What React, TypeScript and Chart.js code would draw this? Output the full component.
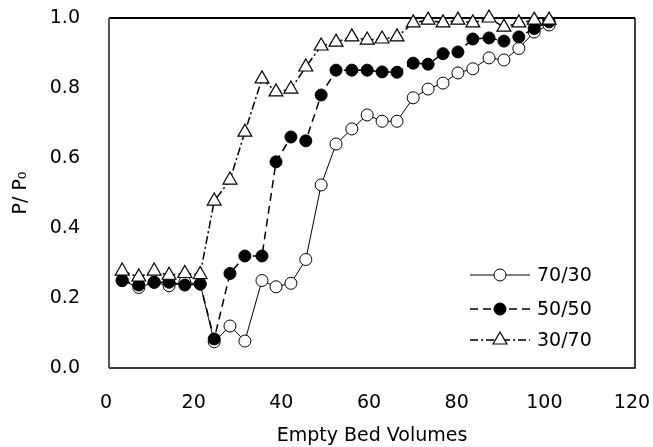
import { useEffect, useRef } from "react";
import { Chart, registerables } from "chart.js";

Chart.register(...registerables);

// Empty bed volumes (x) shared by the three series
const bedVolumes = [3.0, 6.8, 10.3, 13.7, 17.3, 20.8, 24.0, 27.6, 31.0, 34.9, 38.1, 41.5, 44.9, 48.4, 51.8, 55.4, 58.9, 62.3, 65.7, 69.4, 72.8, 76.2, 79.6, 83.0, 86.7, 90.1, 93.5, 97.0, 100.4];

// P/P0 values
const ratio7030 = [0.25, 0.23, 0.245, 0.235, 0.245, 0.24, 0.075, 0.12, 0.077, 0.25, 0.232, 0.242, 0.31, 0.523, 0.64, 0.683, 0.723, 0.705, 0.705, 0.772, 0.797, 0.814, 0.843, 0.855, 0.886, 0.88, 0.913, 0.96, 0.98];
const ratio5050 = [0.25, 0.237, 0.245, 0.245, 0.237, 0.24, 0.083, 0.27, 0.32, 0.32, 0.589, 0.66, 0.649, 0.78, 0.851, 0.851, 0.851, 0.846, 0.845, 0.871, 0.868, 0.898, 0.903, 0.94, 0.943, 0.934, 0.946, 0.97, 0.989];
const ratio3070 = [0.277, 0.26, 0.277, 0.265, 0.27, 0.267, 0.477, 0.537, 0.674, 0.826, 0.789, 0.797, 0.86, 0.92, 0.931, 0.946, 0.937, 0.94, 0.946, 0.986, 0.994, 0.986, 0.994, 0.986, 1.0, 0.974, 0.986, 0.994, 0.994];

const seriesLabels = ["70/30", "50/50", "30/70"];
const xTickValues = [0, 20, 40, 60, 80, 100, 120];
const yTickValues = [0.0, 0.2, 0.4, 0.6, 0.8, 1.0];
const xTitle = "Empty Bed Volumes";
const yTitle = "P/ P\u2080";

const FONT = "'DejaVu Sans', 'Liberation Sans', sans-serif";

type Look = {
  width: number;
  dash: number[];
  fill: string;
  pointStyle: "circle" | "triangle";
  radius: number;
  pointBorder: number;
};

const looks: Look[] = [
  { width: 1, dash: [], fill: "#ffffff", pointStyle: "circle", radius: 6, pointBorder: 1 },
  { width: 1.5, dash: [8, 5], fill: "#000000", pointStyle: "circle", radius: 6, pointBorder: 1 },
  { width: 1.5, dash: [8, 3, 2, 3], fill: "#ffffff", pointStyle: "triangle", radius: 8, pointBorder: 1.2 },
];

function drawMarker(ctx: CanvasRenderingContext2D, look: Look, x: number, y: number) {
  ctx.save();
  ctx.setLineDash([]);
  ctx.beginPath();
  if (look.pointStyle === "circle") {
    ctx.arc(x, y, look.radius, 0, Math.PI * 2);
  } else {
    const r = look.radius;
    let a = 0;
    ctx.moveTo(x + Math.sin(a) * r, y - Math.cos(a) * r);
    a += (2 * Math.PI) / 3;
    ctx.lineTo(x + Math.sin(a) * r, y - Math.cos(a) * r);
    a += (2 * Math.PI) / 3;
    ctx.lineTo(x + Math.sin(a) * r, y - Math.cos(a) * r);
    ctx.closePath();
  }
  ctx.fillStyle = look.fill;
  ctx.fill();
  ctx.lineWidth = look.pointBorder;
  ctx.strokeStyle = "#000";
  ctx.stroke();
  ctx.restore();
}

const framePlugin = {
  id: "frame",
  beforeDatasetsDraw(chart: any) {
    const { ctx, chartArea: a } = chart;
    ctx.save();
    ctx.strokeStyle = "#000";
    ctx.lineWidth = 1.5;
    ctx.beginPath();
    ctx.moveTo(a.left, a.bottom);
    ctx.lineTo(a.right, a.bottom);
    ctx.lineTo(a.right, a.top);
    ctx.stroke();
    ctx.lineWidth = 2;
    ctx.beginPath();
    ctx.moveTo(a.left, a.top);
    ctx.lineTo(a.right, a.top);
    ctx.stroke();
    ctx.strokeStyle = "#555";
    ctx.beginPath();
    ctx.moveTo(a.left, a.top);
    ctx.lineTo(a.left, a.bottom);
    ctx.stroke();
    ctx.restore();
  },
};

const legendPlugin = {
  id: "customLegend",
  afterDraw(chart: any) {
    const { ctx, chartArea: a } = chart;
    const x0 = a.right - 165;
    const x1 = a.right - 105;
    const rows = [a.bottom - 93, a.bottom - 59, a.bottom - 28];
    ctx.save();
    seriesLabels.forEach((label, i) => {
      const look = looks[i];
      const y = rows[i];
      ctx.strokeStyle = "#000";
      ctx.lineWidth = look.width;
      ctx.setLineDash(look.dash);
      ctx.beginPath();
      ctx.moveTo(x0, y);
      ctx.lineTo(x1, y);
      ctx.stroke();
      drawMarker(ctx, look, (x0 + x1) / 2, y);
      ctx.setLineDash([]);
      ctx.fillStyle = "#000";
      ctx.font = `19px ${FONT}`;
      ctx.textBaseline = "middle";
      ctx.textAlign = "left";
      ctx.fillText(label, x1 + 7, y + 1);
    });
    ctx.restore();
  },
};

export default function App() {
  const ref = useRef<HTMLCanvasElement>(null);

  useEffect(() => {
    document.body.style.margin = "0";
    const canvas = ref.current!;
    const seriesValues = [ratio7030, ratio5050, ratio3070];
    const datasets = seriesValues.map((vals, i) => ({
      label: seriesLabels[i],
      data: bedVolumes.map((x, j) => ({ x, y: vals[j] })),
      borderColor: "#000",
      borderWidth: looks[i].width,
      borderDash: looks[i].dash,
      pointStyle: looks[i].pointStyle,
      pointRadius: looks[i].radius,
      pointBackgroundColor: looks[i].fill,
      pointBorderColor: "#000",
      pointBorderWidth: looks[i].pointBorder,
      fill: false,
      tension: 0,
      clip: false,
      order: 3 - i,
    }));

    const chart = new Chart(canvas, {
      type: "line",
      data: { datasets },
      options: {
        animation: false,
        responsive: false,
        devicePixelRatio: 1,
        layout: { padding: { top: 18, right: 18, left: 0, bottom: 0 } },
        plugins: { legend: { display: false }, tooltip: { enabled: false } },
        scales: {
          x: {
            type: "linear",
            min: 0,
            max: 120,
            afterBuildTicks: (s: any) => {
              s.ticks = xTickValues.map((v) => ({ value: v }));
            },
            afterFit: (s: any) => {
              s.height = 79;
              s.paddingLeft = 0;
              s.paddingRight = 0;
            },
            grid: { display: false, drawTicks: false },
            border: { display: false },
            ticks: {
              color: "#000",
              font: { family: FONT, size: 19 },
              padding: 24,
              labelOffset: -3,
              maxRotation: 0,
              callback: (v: any) => String(v),
            },
            title: {
              display: true,
              text: xTitle,
              color: "#000",
              font: { family: FONT, size: 19 },
              padding: { top: 0, bottom: 0 },
            },
          },
          y: {
            type: "linear",
            min: 0,
            max: 1,
            afterBuildTicks: (s: any) => {
              s.ticks = yTickValues.map((v) => ({ value: v }));
            },
            afterFit: (s: any) => {
              s.width = 109;
              s.paddingTop = 0;
              s.paddingBottom = 0;
            },
            grid: { display: false, drawTicks: false },
            border: { display: false },
            ticks: {
              color: "#000",
              font: { family: FONT, size: 19 },
              padding: 29,
              callback: (v: any) => Number(v).toFixed(1),
            },
            title: {
              display: true,
              text: yTitle,
              color: "#000",
              font: { family: FONT, size: 19 },
              padding: { top: 10, bottom: 0 },
            },
          },
        },
      },
      plugins: [framePlugin, legendPlugin],
    });
    return () => chart.destroy();
  }, []);

  return (
    <div style={{ position: "fixed", left: 0, top: 0, width: 653, height: 447, background: "#fff" }}>
      <canvas ref={ref} width={653} height={447} />
    </div>
  );
}
